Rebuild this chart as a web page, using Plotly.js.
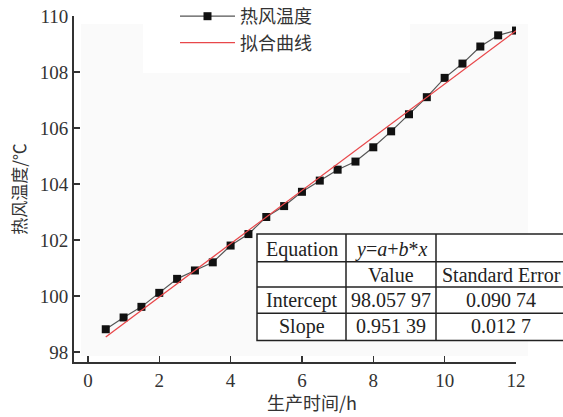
<!DOCTYPE html>
<html>
<head>
<meta charset="utf-8">
<script src="https://cdn.plot.ly/plotly-3.0.1.min.js"></script>
<style>html,body{margin:0;padding:0;background:#fff;}#chart{width:563px;height:417px;}</style>
</head>
<body>
<div id="chart"></div>
<script>
// ---- data ----
const timeH = [0.5, 1, 1.5, 2, 2.5, 3, 3.5, 4, 4.5, 5, 5.5, 6, 6.5, 7, 7.5, 8, 8.5, 9, 9.5, 10, 10.5, 11, 11.5, 12];
const hotAirTemp = [98.81, 99.23, 99.61, 100.11, 100.61, 100.91, 101.2, 101.8, 102.21, 102.82, 103.21, 103.72, 104.12, 104.51, 104.8, 105.31, 105.88, 106.49, 107.1, 107.79, 108.3, 108.91, 109.31, 109.48];
const fitIntercept = 98.05797;
const fitSlope = 0.95139;
const fitX = [0.5, 12];
const seriesNames = ['热风温度', '拟合曲线'];
const tableRows = [
  ['Equation', '<i>y</i>=<i>a</i>+<i>b</i>*<i>x</i>', ''],
  ['', 'Value', 'Standard Error'],
  ['Intercept', '98.057 97', '0.090 74'],
  ['Slope', '0.951 39', '0.012 7']
];
const xTicks = [0, 2, 4, 6, 8, 10, 12];
const yTicks = [98, 100, 102, 104, 106, 108, 110];
const xTitle = '生产时间/h';
const yTitle = '热风温度/℃';

// ---- layout helpers (pixel -> paper) ----
const L = 74, R = 516, T = 16, B = 362;
const W = R - L, H = B - T;
const px = x => (x - L) / W;
const py = y => (B - y) / H;

const fitY = fitX.map(x => fitIntercept + fitSlope * x);

const traces = [
  {
    x: timeH, y: hotAirTemp, name: seriesNames[0], type: 'scatter', mode: 'lines+markers',
    line: {color: '#555', width: 1.2},
    marker: {symbol: 'square', size: 8, color: '#111', line: {width: 0}}
  },
  {
    x: fitX, y: fitY, name: seriesNames[1], type: 'scatter', mode: 'lines',
    line: {color: '#e8474a', width: 1.3}
  }
];

const serif = 'Liberation Serif, Times New Roman, serif';
const cjk = 'Noto Sans CJK SC, sans-serif';

const shapes = [
  {type: 'rect', xref: 'paper', yref: 'paper', layer: 'below', x0: px(81), x1: px(528), y0: py(356), y1: py(24), fillcolor: '#fafafa', line: {width: 0}},
  {type: 'rect', xref: 'paper', yref: 'paper', layer: 'below', x0: px(143), x1: px(410), y0: py(73), y1: py(-2), fillcolor: '#ffffff', line: {width: 0}},
  {type: 'rect', xref: 'paper', yref: 'paper', layer: 'above', x0: px(257), x1: px(575), y0: py(340.5), y1: py(234), fillcolor: '#ffffff', line: {color: '#222', width: 1.5}}
];
[261.7, 287, 313.3].forEach(y => shapes.push({type: 'line', xref: 'paper', yref: 'paper', layer: 'above', x0: px(257), x1: px(575), y0: py(y), y1: py(y), line: {color: '#222', width: 1.5}}));
[346, 436].forEach(x => shapes.push({type: 'line', xref: 'paper', yref: 'paper', layer: 'above', x0: px(x), x1: px(x), y0: py(234), y1: py(340.5), line: {color: '#222', width: 1.5}}));

const colCenters = [302, 391, 501];
const rowCenters = [249, 275, 300, 326];
const annotations = [];
tableRows.forEach((row, r) => row.forEach((txt, c) => {
  if (!txt) return;
  annotations.push({xref: 'paper', yref: 'paper', x: px(colCenters[c]), y: py(rowCenters[r]), xanchor: 'center', yanchor: 'middle', text: txt, showarrow: false, font: {family: serif, size: 20, color: '#222'}});
}));
annotations.push({xref: 'paper', yref: 'paper', x: px(312), y: py(416), xanchor: 'center', yanchor: 'bottom', text: xTitle, showarrow: false, borderpad: 0, font: {family: cjk, size: 18, color: '#333'}});

const layout = {
  width: 563, height: 417,
  margin: {l: L, r: 563 - R, t: T, b: 417 - B, autoexpand: false},
  paper_bgcolor: '#ffffff', plot_bgcolor: 'rgba(0,0,0,0)',
  showlegend: true,
  legend: {x: px(175), y: py(-2), xanchor: 'left', yanchor: 'top', bgcolor: 'rgba(0,0,0,0)', itemwidth: 55, tracegroupgap: 0, font: {family: cjk, size: 18, color: '#333'}},
  xaxis: {
    range: [-0.39, 12], tickvals: xTicks, ticktext: xTicks.map(String),
    showgrid: false, zeroline: false, showline: true, linecolor: '#333', linewidth: 2,
    ticks: 'inside', ticklen: 6, tickwidth: 1.5, tickcolor: '#333',
    tickfont: {family: serif, size: 19, color: '#333'}
  },
  yaxis: {
    range: [97.64, 110], tickvals: yTicks, ticktext: yTicks.map(String),
    showgrid: false, zeroline: false, showline: true, linecolor: '#333', linewidth: 2,
    ticks: 'inside', ticklen: 6, tickwidth: 1.5, tickcolor: '#333',
    tickfont: {family: serif, size: 19, color: '#333'},
    title: {text: yTitle, font: {family: cjk, size: 17, color: '#333'}, standoff: 9}
  },
  shapes: shapes,
  annotations: annotations
};

Plotly.newPlot('chart', traces, layout, {displayModeBar: false, staticPlot: true});
</script>
</body>
</html>
